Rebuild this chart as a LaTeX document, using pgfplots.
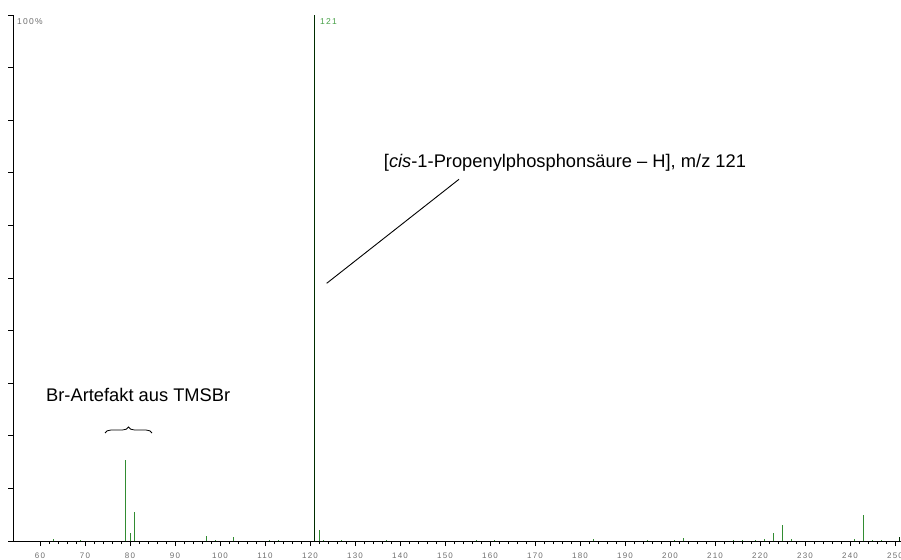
\documentclass[border=0pt]{standalone}
\usepackage{pgfplots}
\pgfplotsset{compat=1.18}
\usepackage{fontspec}
\setmainfont{Liberation Sans}
\newfontfamily\tickfont[LetterSpace=15]{Liberation Sans}
\usetikzlibrary{decorations.pathreplacing}
\definecolor{peak}{RGB}{50,140,50}
\definecolor{mainpeak}{RGB}{0,45,0}
\definecolor{lbl}{RGB}{110,110,110}
\definecolor{lblgreen}{RGB}{70,160,70}
\begin{document}
\begin{tikzpicture}
\useasboundingbox (-13pt,-18pt) rectangle (888pt,541pt);
\begin{axis}[
  at={(0pt,0pt)}, anchor=south west,
  scale only axis, width=888pt, height=526pt,
  xmin=54, xmax=251.333, ymin=0, ymax=100,
  axis lines=left, axis line style={-, line width=0.8pt, black},
  xtick={60,70,...,250}, minor x tick num=4,
  ytick={0,10,...,100}, yticklabels={},
  tick align=outside, major tick length=5pt, minor tick length=3pt,
  tick style={black, line width=0.7pt},
  /pgf/number format/assume math mode=true,
  x tick label style={font=\tickfont\fontsize{8}{9}\selectfont, text=lbl, yshift=-3pt},
  clip=false,
]
\addplot[ycomb, color=peak, line width=1pt, mark=none] coordinates {
 (63,0.4) (69,0.2) (79,15.4) (80,1.5) (81,5.5) (97,1.0) (99,0.2) (103,0.8)
 (111,0.2) (113,0.2) (122,2.1) (123,0.2) (127,0.2) (137,0.2) (157,0.2) (161,0.1)
 (183,0.3) (195,0.1) (201,0.2) (203,0.5) (214,0.1) (216,0.1) (219,0.1)
 (221,0.45) (223,1.5) (225,3.0) (227,0.3) (241,0.4) (243,4.9) (245,0.2) (247,0.1)
};
\addplot[ycomb, color=mainpeak, line width=1.1pt, mark=none] coordinates {(121,100)};
\addplot[ycomb, color=mainpeak, line width=1pt, mark=none] coordinates {(251,0.8)};
\end{axis}
\node[anchor=west, text=lbl, font=\tickfont\fontsize{8.5}{9}\selectfont, inner sep=0pt] at (4pt,519pt) {100\%};
\node[anchor=west, text=lblgreen, font=\tickfont\fontsize{8.5}{9}\selectfont, inner sep=0pt] at (307pt,519pt) {121};
\node[font=\fontsize{18.3}{21}\selectfont, inner sep=0pt] at (552pt,378pt) {[\textit{cis}-1-Propenylphosphons\"aure -- H], m/z 121};
\draw[line width=0.9pt] (313.7pt,257.7pt) -- (446pt,361.7pt);
\node[anchor=west, font=\fontsize{18.3}{21}\selectfont, inner sep=0pt] at (33pt,146pt) {Br-Artefakt aus TMSBr};
\draw[line width=0.8pt, decorate, decoration={brace, amplitude=6pt}] (92pt,108pt) -- (139pt,108pt);
\end{tikzpicture}
\end{document}
